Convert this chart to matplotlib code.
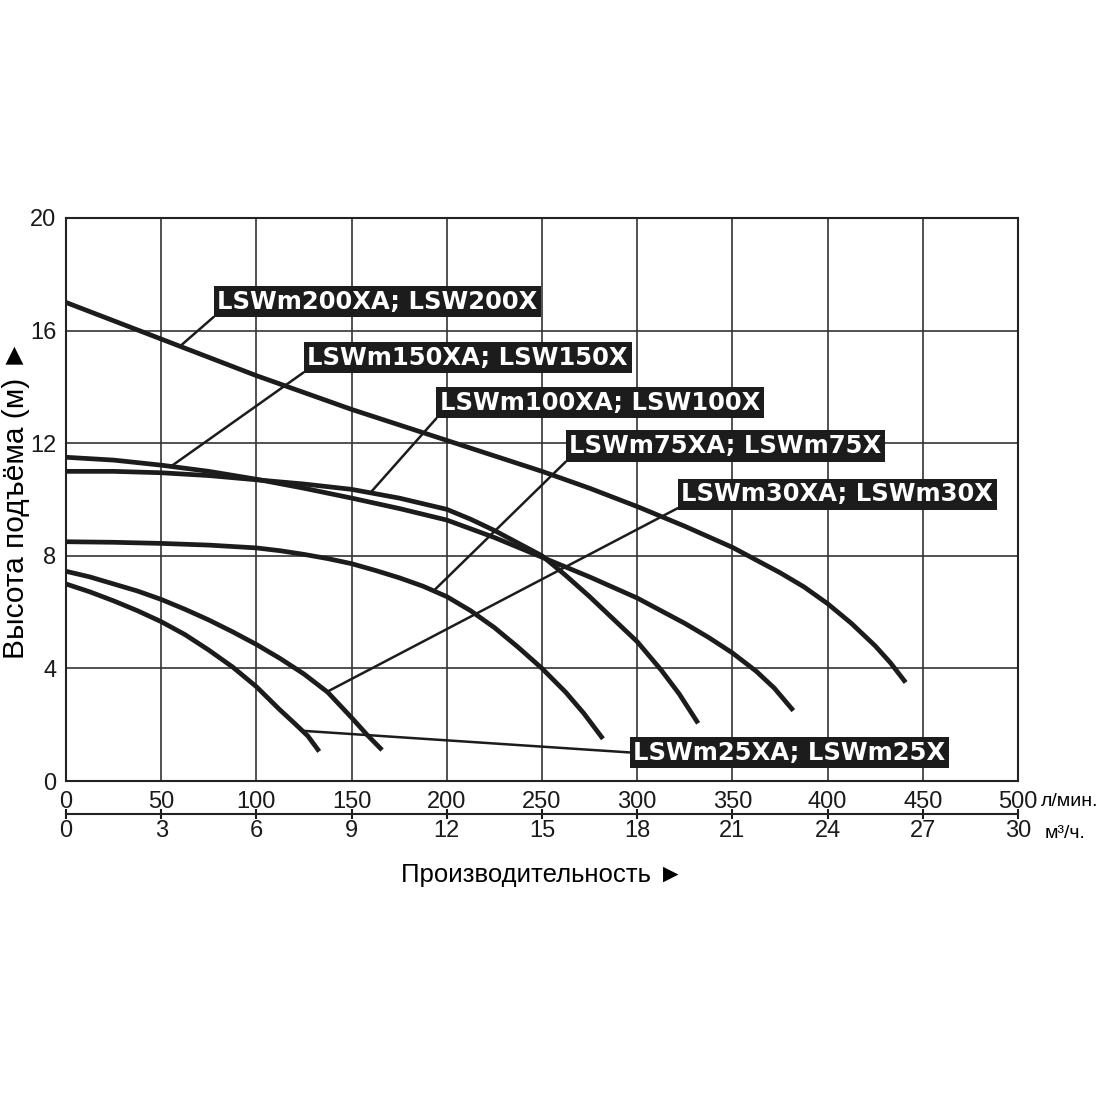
import matplotlib.pyplot as plt

# pump curves, flow in l/min, head in m
q_200 = [0, 50, 100, 150, 200, 250, 275, 300, 325, 350, 375, 387.5, 400, 412.5, 425, 433, 441]
h_200 = [17.0, 15.7, 14.4, 13.2, 12.1, 11.0, 10.4, 9.75, 9.05, 8.3, 7.4, 6.9, 6.3, 5.6, 4.8, 4.2, 3.5]

q_150 = [0, 25, 50, 75, 100, 125, 150, 175, 200, 225, 250, 275, 300,
         312.5, 325, 337.5, 350, 362.5, 372, 382]
h_150 = [11.5, 11.4, 11.22, 11.0, 10.72, 10.4, 10.05, 9.68, 9.27, 8.65, 7.95, 7.25, 6.5,
         6.05, 5.6, 5.1, 4.55, 3.9, 3.3, 2.5]

q_100 = [0, 25, 50, 75, 100, 125, 150, 175, 200, 212.5, 225, 237.5, 250,
         262.5, 275, 287.5, 300, 312.5, 322, 332]
h_100 = [11.0, 11.0, 10.95, 10.85, 10.7, 10.55, 10.36, 10.05, 9.65, 9.3, 8.9, 8.45, 8.0,
         7.3, 6.55, 5.75, 4.95, 3.95, 3.1, 2.05]

q_75 = [0, 25, 50, 75, 100, 112.5, 125, 137.5, 150, 162.5, 175, 187.5, 200,
        212.5, 225, 237.5, 250, 262.5, 272, 282]
h_75 = [8.5, 8.48, 8.44, 8.38, 8.28, 8.18, 8.05, 7.9, 7.72, 7.48, 7.22, 6.92, 6.55,
        6.05, 5.45, 4.75, 4.0, 3.15, 2.4, 1.5]

q_30 = [0, 12.5, 25, 37.5, 50, 62.5, 75, 87.5, 100, 112.5, 125, 137.5, 150, 158, 166]
h_30 = [7.45, 7.25, 7.0, 6.75, 6.45, 6.1, 5.72, 5.3, 4.85, 4.35, 3.8, 3.15, 2.25, 1.65, 1.1]

q_25 = [0, 12.5, 25, 37.5, 50, 62.5, 75, 87.5, 100, 112, 120, 127, 133]
h_25 = [7.0, 6.72, 6.4, 6.05, 5.66, 5.2, 4.65, 4.05, 3.35, 2.55, 2.05, 1.6, 1.05]

labels = ["LSWm200XA; LSW200X", "LSWm150XA; LSW150X", "LSWm100XA; LSW100X",
          "LSWm75XA; LSWm75X", "LSWm30XA; LSWm30X", "LSWm25XA; LSWm25X"]
# point on curve where the leader ends
leader_pts = [(60, 15.45), (55, 11.17), (160, 10.25), (193, 6.75), (138, 3.2), (125, 1.78)]
# lower-left corner of each black label box
box_pos = [(77.5, 16.47), (124.8, 14.48), (194.2, 12.88), (262.4, 11.34), (321.2, 9.63), (295.9, 0.45)]
rel = [(0, 0), (0, 0), (0, 0), (0, 0), (0, 0), (0, 0.5)]

plt.rcParams['font.family'] = ['Liberation Sans', 'DejaVu Sans']
ink = '#1c1c1c'

fig = plt.figure(figsize=(11, 11), dpi=100)
ax = fig.add_axes([66 / 1100, 1 - 781 / 1100, 952 / 1100, 563 / 1100])

curves = [(q_200, h_200), (q_150, h_150), (q_100, h_100),
          (q_75, h_75), (q_30, h_30), (q_25, h_25)]
for q, h in curves:
    ax.plot(q, h, color=ink, lw=3.4, solid_capstyle='butt', solid_joinstyle='round', zorder=3)

ax.set_xlim(0, 500)
ax.set_ylim(0, 20)
ax.set_xticks(range(0, 501, 50))
ax.set_yticks(range(0, 21, 4))
ax.grid(True, color='#333333', lw=1.2)
ax.tick_params(length=0, labelsize=17, colors='#1a1a1a')
ax.tick_params(axis='x', pad=7)
ax.tick_params(axis='y', pad=7)
for s in ax.spines.values():
    s.set_linewidth(1.5)
    s.set_color('#222222')

# second flow scale in m3/h
sec = ax.secondary_xaxis(-33 / 563, functions=(lambda x: x * 0.06, lambda m: m / 0.06))
sec.set_alignment('bottom')
sec.set_xticks(range(0, 31, 3))
sec.tick_params(direction='inout', length=7, width=1.5, labelsize=17, pad=1, colors='#1a1a1a')
sec.spines['bottom'].set_linewidth(1.5)
sec.spines['bottom'].set_color('#222222')

fig.text(1041 / 1100, 1 - 801 / 1100, 'л/мин.', fontsize=14, va='center', ha='left')
fig.text(1045 / 1100, 1 - 834 / 1100, 'м³/ч.', fontsize=14, va='center', ha='left')

ax.set_ylabel('Высота подъёма (м) ►', fontsize=21.5, labelpad=0)
ax.set_xlabel('Производительность ►', fontsize=18.5, labelpad=36)

for text, pt, (bx, by), rp in zip(labels, leader_pts, box_pos, rel):
    ax.annotate(text, xy=pt, xytext=(bx + 2, by + 0.13), textcoords='data',
                ha='left', va='bottom', color='white', fontsize=17.5, fontweight='bold',
                family='DejaVu Sans',
                bbox=dict(boxstyle='square,pad=0.15', fc=ink, ec='none'),
                arrowprops=dict(arrowstyle='-', color=ink, lw=1.8, relpos=rp,
                                shrinkA=0, shrinkB=0),
                zorder=5)

fig.savefig('out.png', dpi=100, facecolor='white')
